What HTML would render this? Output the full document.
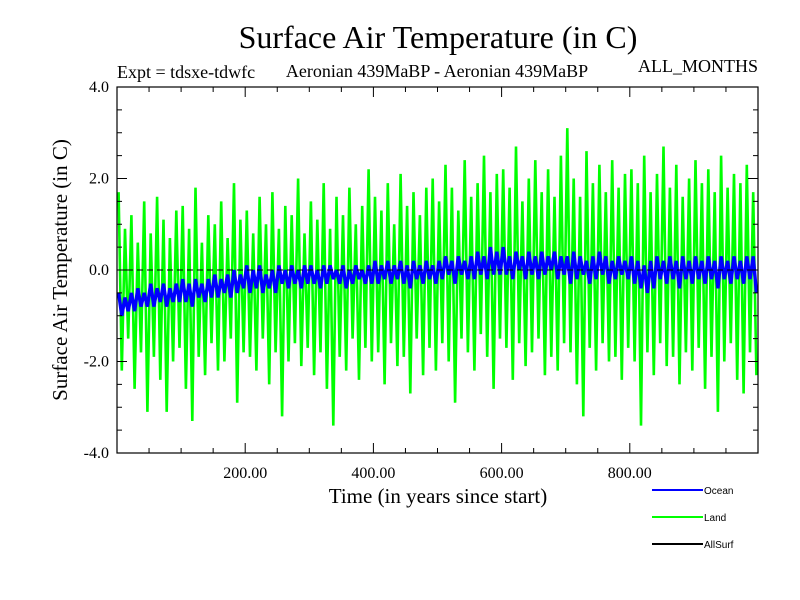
<!DOCTYPE html>
<html><head><meta charset="utf-8">
<style>
html,body{margin:0;padding:0;background:#fff;}
svg{display:block;font-family:"Liberation Serif",serif;}
.lg{font-family:"Liberation Sans",sans-serif;font-size:10px;}
</style></head>
<body>
<svg id="chart" width="800" height="600" viewBox="0 0 800 600" xmlns="http://www.w3.org/2000/svg">
<text x="438" y="48" font-size="32" text-anchor="middle">Surface Air Temperature (in C)</text>
<text x="117" y="78" font-size="18">Expt = tdsxe-tdwfc</text>
<text x="437" y="77" font-size="18" text-anchor="middle">Aeronian 439MaBP - Aeronian 439MaBP</text>
<text x="758" y="72" font-size="18" text-anchor="end">ALL_MONTHS</text>
<g id="plot"></g>
<g id="axes"></g>
<text transform="translate(67,270) rotate(-90)" font-size="21" text-anchor="middle">Surface Air Temperature (in C)</text>
<text x="438" y="503" font-size="21" text-anchor="middle">Time (in years since start)</text>
<g>
<g><line x1="652" y1="490" x2="703" y2="490" stroke="#0000ff" stroke-width="2"/><text class="lg" x="704" y="494">Ocean</text></g>
<g><line x1="652" y1="517" x2="703" y2="517" stroke="#00ff00" stroke-width="2"/><text class="lg" x="704" y="521">Land</text></g>
<g><line x1="652" y1="544" x2="703" y2="544" stroke="#000" stroke-width="2"/><text class="lg" x="704" y="548">AllSurf</text></g>
</g>
</svg>
<script>
const xTicks=[200,400,600,800];
const xTickLabels=["200.00","400.00","600.00","800.00"];
const yTicks=[4,2,0,-2,-4];
const yTickLabels=["4.0","2.0","0.0","-2.0","-4.0"];
const landValues=[1.7,-2.2,0.9,-1.5,1.2,-2.6,0.6,-1.8,1.5,-3.1,0.8,-1.9,1.6,-2.4,1.1,-3.1,0.7,-2.0,1.3,-1.7,
1.4,-2.6,0.9,-3.3,1.8,-1.9,0.6,-2.3,1.2,-1.6,1.0,-2.2,1.5,-2.0,0.7,-1.5,1.9,-2.9,1.1,-1.8,
1.3,-1.9,0.8,-2.2,1.6,-1.5,1.0,-2.5,1.7,-1.8,0.9,-3.2,1.4,-2.0,1.2,-1.6,2.0,-2.1,0.8,-1.7,
1.5,-2.3,1.1,-1.8,1.9,-2.6,0.9,-3.4,1.6,-1.9,1.2,-2.2,1.8,-1.5,1.0,-2.4,1.4,-1.7,2.2,-2.0,
1.6,-1.8,1.3,-2.5,1.9,-1.6,1.0,-2.1,2.1,-1.9,1.4,-2.7,1.7,-1.5,1.2,-2.3,1.8,-1.7,2.0,-2.2,
1.5,-1.6,2.3,-2.0,1.8,-2.9,1.3,-1.5,2.4,-1.8,1.6,-2.2,1.9,-1.4,2.5,-1.9,1.7,-2.6,2.1,-1.5,
2.2,-1.7,1.8,-2.4,2.7,-1.6,1.5,-2.1,2.0,-1.8,2.4,-1.5,1.7,-2.3,2.2,-1.9,1.6,-2.2,2.5,-1.6,
3.1,-1.8,2.0,-2.5,1.6,-3.2,2.6,-1.7,1.9,-2.2,2.3,-1.6,1.7,-2.0,2.4,-1.9,1.8,-2.4,2.1,-1.7,
2.2,-2.0,1.9,-3.4,2.5,-1.8,1.7,-2.3,2.1,-1.6,2.7,-2.1,1.8,-1.9,2.3,-2.5,1.6,-1.8,2.0,-2.2,
2.4,-1.7,1.9,-2.6,2.2,-1.9,1.7,-3.1,2.5,-2.0,1.8,-1.6,2.1,-2.4,1.9,-2.7,2.3,-1.8,1.7,-2.3];
const oceanValues=[-0.5,-1.0,-0.6,-0.9,-0.5,-0.9,-0.4,-0.8,-0.5,-0.8,-0.3,-0.8,-0.4,-0.7,-0.3,-0.8,-0.4,-0.7,-0.3,-0.7,
-0.2,-0.7,-0.3,-0.8,-0.2,-0.6,-0.3,-0.7,-0.2,-0.6,-0.1,-0.6,-0.2,-0.5,-0.1,-0.6,0.0,-0.5,-0.1,-0.4,
0.1,-0.5,0.0,-0.4,0.1,-0.5,-0.1,-0.4,0.0,-0.5,0.1,-0.3,0.0,-0.4,0.1,-0.3,0.0,-0.4,0.1,-0.3,
0.1,-0.3,0.0,-0.4,0.1,-0.3,0.1,-0.2,0.0,-0.3,0.1,-0.4,0.0,-0.3,0.1,-0.2,0.0,-0.3,0.1,-0.3,
0.2,-0.3,0.1,-0.2,0.2,-0.3,0.1,-0.2,0.2,-0.3,0.1,-0.4,0.2,-0.2,0.1,-0.3,0.2,-0.2,0.1,-0.3,
0.2,-0.2,0.3,-0.1,0.2,-0.3,0.3,-0.1,0.2,-0.2,0.3,-0.2,0.4,-0.1,0.3,-0.2,0.5,-0.1,0.4,-0.1,
0.5,-0.1,0.3,-0.2,0.4,0.0,0.3,-0.2,0.4,-0.1,0.3,-0.2,0.4,-0.1,0.3,0.0,0.4,-0.2,0.3,-0.1,
0.3,-0.3,0.4,-0.2,0.3,-0.1,0.2,-0.3,0.3,-0.2,0.4,-0.1,0.3,-0.3,0.2,-0.2,0.3,-0.1,0.2,-0.2,
0.3,-0.3,0.2,-0.4,0.1,-0.5,0.2,-0.4,0.3,-0.2,0.2,-0.3,0.3,-0.2,0.2,-0.4,0.3,-0.2,0.2,-0.3,
0.3,-0.2,0.2,-0.3,0.3,-0.2,0.2,-0.4,0.3,-0.2,0.2,-0.3,0.3,-0.2,0.2,-0.3,0.3,-0.2,0.3,-0.5];
const yearStep=5;

const NS="http://www.w3.org/2000/svg";
const L=117,R=758,T=87,B=453,X0=0,X1=1000,Y0=-4,Y1=4;
function sx(v){return L+(v-X0)/(X1-X0)*(R-L);}
function sy(v){return B-(v-Y0)/(Y1-Y0)*(B-T);}
function mk(tag,attrs,parent){const e=document.createElementNS(NS,tag);for(const k in attrs)e.setAttribute(k,attrs[k]);parent.appendChild(e);return e;}
const plot=document.getElementById('plot'),axes=document.getElementById('axes');

function series(vals,color,w,name){
  const pts=vals.map((v,i)=>sx(i*yearStep+yearStep/2).toFixed(1)+","+sy(v).toFixed(1)).join(" ");
  const p=mk('polyline',{points:pts,fill:'none',stroke:color,'stroke-width':w,'stroke-linejoin':'bevel'},plot);
  
  
}
series(landValues,'#00ff00',2.6,'land-series');
series(oceanValues,'#0000ff',3.4,'ocean-series');
const zl=mk('line',{x1:L,x2:R,y1:sy(0),y2:sy(0),stroke:'#000','stroke-width':1,'stroke-dasharray':'6,4'},plot);



const fr=mk('rect',{x:L,y:T,width:R-L,height:B-T,fill:'none',stroke:'#000','stroke-width':1.2},axes);


for(let v=50;v<X1;v+=50){
  const big=v%200===0, len=big?10:5;
  mk('line',{x1:sx(v),x2:sx(v),y1:B,y2:B-len,stroke:'#000'},axes);
  mk('line',{x1:sx(v),x2:sx(v),y1:T,y2:T+len,stroke:'#000'},axes);
}
for(let v=-3.5;v<4;v+=0.5){
  const big=Math.abs(v%2)<1e-9, len=big?10:5;
  mk('line',{x1:L,x2:L+len,y1:sy(v),y2:sy(v),stroke:'#000'},axes);
  mk('line',{x1:R,x2:R-len,y1:sy(v),y2:sy(v),stroke:'#000'},axes);
}
xTicks.forEach((v,i)=>{
  const t=mk('text',{x:sx(v),y:B+25,'font-size':16,'text-anchor':'middle'},axes);
  t.textContent=xTickLabels[i];
  
  
});
yTicks.forEach((v,i)=>{
  const t=mk('text',{x:L-8,y:sy(v)+5,'font-size':16,'text-anchor':'end'},axes);
  t.textContent=yTickLabels[i];
  
  
});
</script>
</body></html>
